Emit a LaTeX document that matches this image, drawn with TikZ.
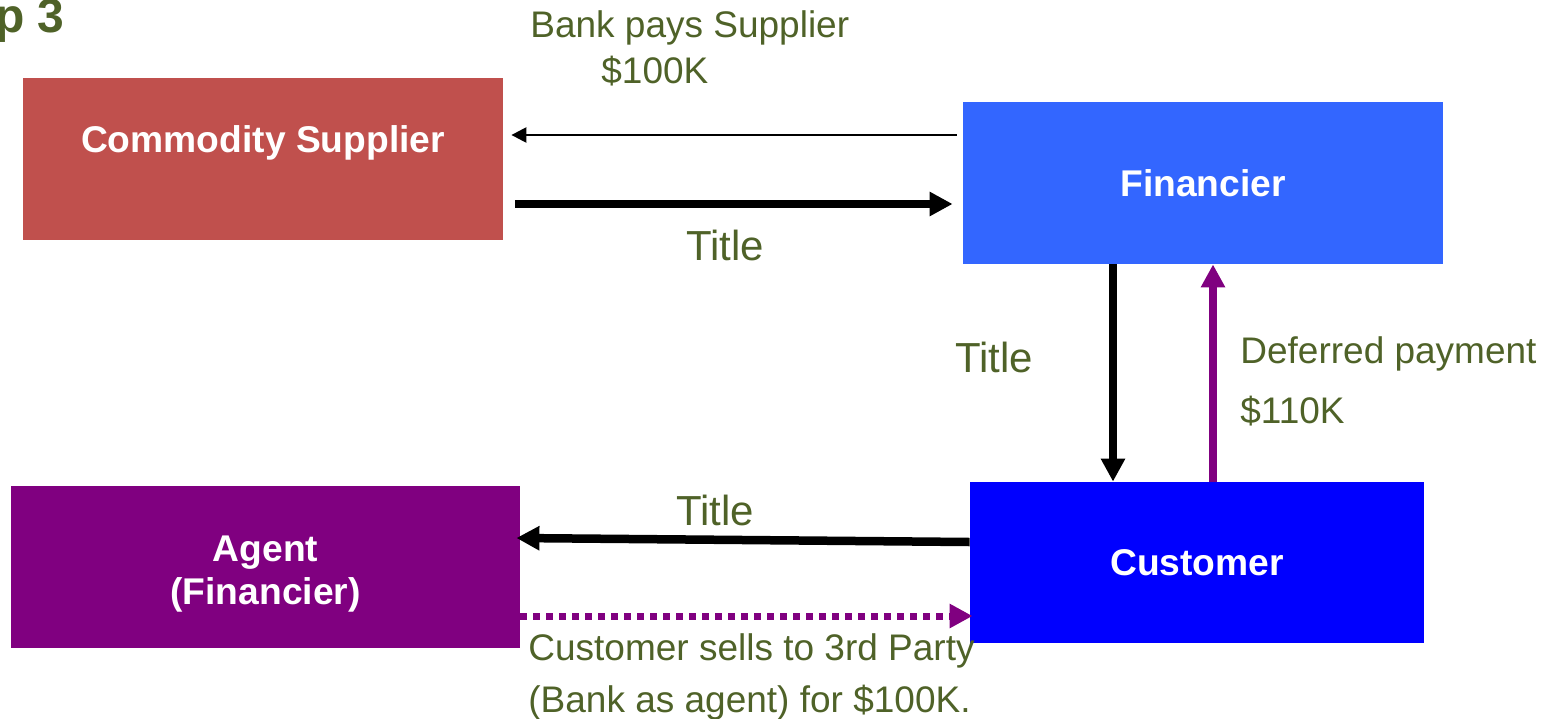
\documentclass[tikz,border=0pt]{standalone}
\usepackage{fontspec}
\setmainfont{Liberation Sans}
\usetikzlibrary{arrows.meta, positioning}

\definecolor{supred}{HTML}{C0504D}
\definecolor{finblue}{HTML}{3366FF}
\definecolor{cusblue}{HTML}{0000FF}
\definecolor{agtpurple}{HTML}{800080}
\definecolor{labgreen}{HTML}{4F6228}

\begin{document}
\begin{tikzpicture} [
						x=0.5pt, y=-0.5pt,
						box/.style={rectangle, inner sep=0pt, text=white, align=center,
							font=\bfseries\fontsize{18.6}{21.5}\selectfont},
						lbl/.style={inner sep=0pt, anchor=base west, text=labgreen, align=left,
							font=\fontsize{18.5}{23}\selectfont},
						ttl/.style={inner sep=0pt, anchor=base west, text=labgreen,
							font=\fontsize{21}{25}\selectfont},
						thinarrow/.style={-{Triangle[length=7.5pt,width=7.5pt]}, line width=1.2pt},
						fatarrow/.style={-{Triangle[length=11.5pt,width=11.5pt]}, line width=4.25pt},
						payarrow/.style={fatarrow, color=agtpurple, line width=4pt},
						dotarrow/.style={payarrow, line width=3.5pt, dash pattern=on 3.5pt off 3pt}
					]

\useasboundingbox (0,0) rectangle (1548,718);

\node (step) [inner sep=0pt, anchor=base east, text=labgreen,
	font=\bfseries\fontsize{24}{28}\selectfont] at (65,32) {p 3};

\node (sup) [box, fill=supred, minimum width=240pt, minimum height=81pt,
	text height=13pt, text depth=20pt] at (263,159) {Commodity Supplier};
\node (fin) [box, fill=finblue, minimum width=240pt, minimum height=81pt] at (1203,183) {Financier};
\node (cus) [box, fill=cusblue, minimum width=227pt, minimum height=80.5pt] at (1197,562.5) {Customer};
\node (agt) [box, fill=agtpurple, minimum width=254.5pt, minimum height=81pt] at (265.5,567)
	{\rule{0pt}{19.5pt}Agent\\(Financier)};

% multi-line labels sit on the baseline of their last line
\node (pays) [lbl] at (530,83) {Bank pays Supplier\\\hspace*{35.5pt}\$100K};
\node (title1) [ttl] at (686,260) {Title};
\node (title2) [ttl] at (955,372) {Title};
\node (defer) [lbl] at (1240,423) {Deferred payment\\[7pt]\$110K};
\node (title3) [ttl] at (676,525) {Title};
\node (sells) [lbl] at (528,712) {Customer sells to 3rd Party\\[2.75pt](Bank as agent) for \$100K.};

\path[thinarrow]
	([xshift=-3pt,yshift=24pt]fin.west) edge ([xshift=4pt,yshift=12pt]sup.east);
\path[fatarrow]
	([xshift=6pt,yshift=-22.5pt]sup.east) edge ([xshift=-5pt,yshift=-10.5pt]fin.west)
	([xshift=-45pt]fin.south) edge ([xshift=-42pt]cus.north)
	([yshift=10.25pt]cus.west) edge ([xshift=-2pt,yshift=14.5pt]agt.east);
\path[payarrow]
	([xshift=8pt]cus.north) edge ([xshift=5pt]fin.south);
\path[dotarrow]
	([yshift=-24.5pt]agt.east) edge ([xshift=1.5pt,yshift=-26.75pt]cus.west);
\end{tikzpicture}
\end{document}
